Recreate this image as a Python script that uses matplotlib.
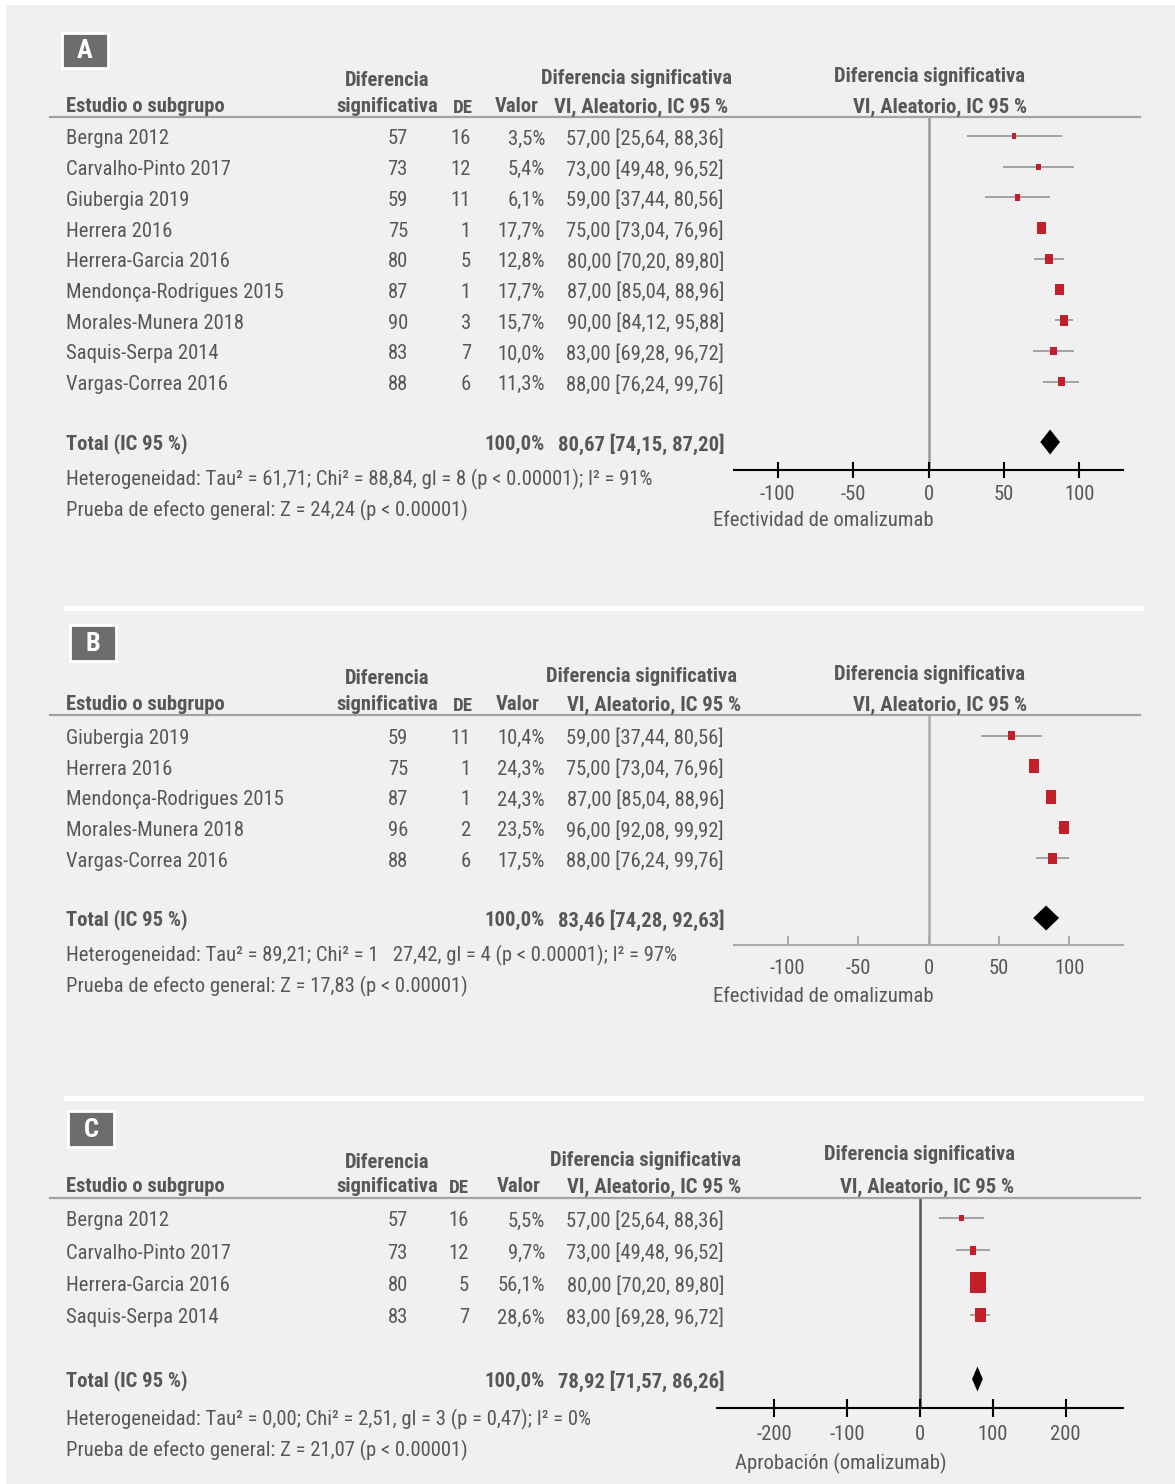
import matplotlib
matplotlib.use("Agg")
import matplotlib.pyplot as plt
from matplotlib.patches import Rectangle
from matplotlib.lines import Line2D
from matplotlib.path import Path

plt.rcParams['font.family'] = ['Liberation Sans Narrow', 'Roboto Condensed', 'DejaVu Sans']
plt.rcParams['axes.unicode_minus'] = False

# --- datos ---------------------------------------------------------------
A_studies = ["Bergna 2012", "Carvalho-Pinto 2017", "Giubergia 2019", "Herrera 2016",
             "Herrera-Garcia 2016", "Mendonça-Rodrigues 2015", "Morales-Munera 2018",
             "Saquis-Serpa 2014", "Vargas-Correa 2016"]
A_mean = [57, 73, 59, 75, 80, 87, 90, 83, 88]
A_sd = [16, 12, 11, 1, 5, 1, 3, 7, 6]
A_weight = [3.5, 5.4, 6.1, 17.7, 12.8, 17.7, 15.7, 10.0, 11.3]
A_lo = [25.64, 49.48, 37.44, 73.04, 70.20, 85.04, 84.12, 69.28, 76.24]
A_hi = [88.36, 96.52, 80.56, 76.96, 89.80, 88.96, 95.88, 96.72, 99.76]
A_total = (80.67, 74.15, 87.20)
A_het = "Heterogeneidad: Tau² = 61,71; Chi² = 88,84, gl = 8 (p < 0.00001); I² = 91%"
A_z = "Prueba de efecto general: Z = 24,24 (p < 0.00001)"

B_studies = ["Giubergia 2019", "Herrera 2016", "Mendonça-Rodrigues 2015",
             "Morales-Munera 2018", "Vargas-Correa 2016"]
B_mean = [59, 75, 87, 96, 88]
B_sd = [11, 1, 1, 2, 6]
B_weight = [10.4, 24.3, 24.3, 23.5, 17.5]
B_lo = [37.44, 73.04, 85.04, 92.08, 76.24]
B_hi = [80.56, 76.96, 88.96, 99.92, 99.76]
B_total = (83.46, 74.28, 92.63)
B_het = "Heterogeneidad: Tau² = 89,21; Chi² = 1   27,42, gl = 4 (p < 0.00001); I² = 97%"
B_z = "Prueba de efecto general: Z = 17,83 (p < 0.00001)"

C_studies = ["Bergna 2012", "Carvalho-Pinto 2017", "Herrera-Garcia 2016", "Saquis-Serpa 2014"]
C_mean = [57, 73, 80, 83]
C_sd = [16, 12, 5, 7]
C_weight = [5.5, 9.7, 56.1, 28.6]
C_lo = [25.64, 49.48, 70.20, 69.28]
C_hi = [88.36, 96.52, 89.80, 96.72]
C_total = (78.92, 71.57, 86.26)
C_het = "Heterogeneidad: Tau² = 0,00; Chi² = 2,51, gl = 3 (p = 0,47); I² = 0%"
C_z = "Prueba de efecto general: Z = 21,07 (p < 0.00001)"

# --- estilo --------------------------------------------------------------
W, H = 1175, 1484
BG = "#f0f0f0"
TXT = "#575757"
RED = "#c1202a"
FS = 14.9
DY = 3  # los textos van un poco por debajo del centro de fila


def fx(px):
    return px / W


def fy(py):
    return 1 - py / H


def num(v, nd=2):
    return f"{v:.{nd}f}".replace(".", ",")


# marcador rectangular (un poco más alto que ancho)
RECT = Path([(-0.5, -0.65), (0.5, -0.65), (0.5, 0.65), (-0.5, 0.65), (-0.5, -0.65)],
            [Path.MOVETO, Path.LINETO, Path.LINETO, Path.LINETO, Path.CLOSEPOLY])

fig = plt.figure(figsize=(W / 100, H / 100), dpi=100)
fig.patch.set_facecolor("white")
fig.add_artist(Rectangle((fx(6), 0), 1 - fx(6), fy(5), transform=fig.transFigure,
                         facecolor=BG, edgecolor="none", zorder=-5))


def ftext(x, y, s, **kw):
    kw.setdefault("color", TXT)
    kw.setdefault("fontsize", FS)
    kw.setdefault("va", "center")
    fig.text(fx(x), fy(y + DY), s, **kw)


def panel(letter, studies, mean, sd, weight, lo, hi, total, het, zline, lay):
    # caja con la letra
    bx, by, bw, bh = lay["box"]
    fig.add_artist(Rectangle((fx(bx), fy(by + bh)), bw / W, bh / H, transform=fig.transFigure,
                             facecolor="#6d6d6d", edgecolor="white", lw=2))
    ftext(bx + bw / 2, by + bh / 2 - 2, letter, color="white", fontsize=19,
          fontweight="bold", ha="center")

    # encabezados
    h1, h2 = lay["hy"]
    ftext(66, h2, "Estudio o subgrupo", fontweight="bold")
    ftext(387, h1 + 2, "Diferencia", fontweight="bold", ha="center")
    ftext(387, h2, "significativa", fontweight="bold", ha="center")
    ftext(lay["de_x"], h2 + 1, "DE", fontweight="bold", ha="center", fontsize=13.5)
    ftext(lay["valor_x"], h2, "Valor", fontweight="bold", ha="center")
    ftext(lay["mid_x"][0], h1, "Diferencia significativa", fontweight="bold", ha="center")
    ftext(lay["mid_x"][1], h2, "VI, Aleatorio, IC 95 %", fontweight="bold", ha="center")
    ftext(lay["right_x"][0], lay["right_y"], "Diferencia significativa", fontweight="bold", ha="center")
    ftext(lay["right_x"][1], h2, "VI, Aleatorio, IC 95 %", fontweight="bold", ha="center")

    hl = lay["hline"]
    fig.add_artist(Line2D([fx(50), fx(1140)], [fy(hl), fy(hl)], transform=fig.transFigure,
                          color="#a3a3a3", lw=1.6))

    # filas
    r0, step = lay["row0"], lay["step"]
    for i, name in enumerate(studies):
        y = r0 + i * step
        ftext(66, y, name)
        ftext(408, y, f"{mean[i]}", ha="right")
        ftext(lay["sd_x"], y, f"{sd[i]}", ha="right")
        ftext(545, y, f"{num(weight[i], 1)}%", ha="right")
        ftext(724, y, f"{num(mean[i])} [{num(lo[i])}, {num(hi[i])}]", ha="right")

    est, tlo, thi = total
    ty = lay["total_y"]
    ftext(66, ty, "Total (IC 95 %)", fontweight="bold")
    ftext(545, ty, "100,0%", fontweight="bold", ha="right")
    ftext(724, ty, f"{num(est)} [{num(tlo)}, {num(thi)}]", fontweight="bold", ha="right")
    ftext(66, lay["het_y"], het)
    ftext(66, lay["z_y"], zline)

    # gráfico de bosque
    x0, x1 = lay["ax_x"]
    ay = lay["axis_y"]
    ax = fig.add_axes([fx(x0), fy(ay), (x1 - x0) / W, (ay - hl) / H])
    ax.patch.set_alpha(0)
    ax.set_xlim(*lay["xlim"])
    ax.set_ylim((ay - r0) / step, (hl - r0) / step)
    rows = list(range(len(studies)))
    ax.axvline(0, color=lay["zero_c"], lw=1.8, zorder=1)
    ax.hlines(rows, lo, hi, color="#9c9c9c", lw=1.3, zorder=2)
    ax.scatter(mean, rows, s=[3.9 * w for w in weight], marker=RECT,
               color=RED, linewidths=0, zorder=3)
    dy = (ty + 1 - r0) / step
    hh = 12.5 / step
    ax.fill([tlo, est, thi, est], [dy, dy - hh, dy, dy + hh], color="black", lw=0, zorder=3)

    for s in ("top", "left", "right"):
        ax.spines[s].set_visible(False)
    ax.spines["bottom"].set_color(lay["axis_c"])
    ax.spines["bottom"].set_linewidth(1.5)
    ax.set_yticks([])
    ax.set_xticks(lay["ticks"])
    ax.tick_params(axis="x", direction=lay["tdir"], length=lay["tlen"], width=1.5,
                   color=lay["axis_c"], labelsize=FS, labelcolor=TXT, pad=lay["tpad"])
    ftext(lay["xlab"][0], lay["xlab"][1], lay["xlab"][2], ha=lay["xlab"][3])


panel("A", A_studies, A_mean, A_sd, A_weight, A_lo, A_hi, A_total, A_het, A_z, dict(
    box=(62, 33, 46, 35), hy=(75, 104), de_x=463, valor_x=517, mid_x=(636, 641),
    right_x=(930, 940), right_y=74, hline=117, row0=136, step=30.7, sd_x=471,
    total_y=441, het_y=476, z_y=507, ax_x=(734, 1123), axis_y=470, xlim=(-129, 129),
    ticks=[-100, -50, 0, 50, 100], zero_c="#9a9a9a", axis_c="black", tdir="inout",
    tlen=11.5, tpad=5, xlab=(713, 518, "Efectividad de omalizumab", "left")))

fig.add_artist(Line2D([fx(66), fx(1141)], [fy(608), fy(608)], transform=fig.transFigure,
                      color="white", lw=3.6))

panel("B", B_studies, B_mean, B_sd, B_weight, B_lo, B_hi, B_total, B_het, B_z, dict(
    box=(70, 625, 46, 36), hy=(673, 702), de_x=463, valor_x=518, mid_x=(641, 654),
    right_x=(930, 940), right_y=671, hline=715, row0=735.5, step=30.7, sd_x=471,
    total_y=917, het_y=952, z_y=983, ax_x=(734, 1123), axis_y=945, xlim=(-138, 138),
    ticks=[-100, -50, 0, 50, 100], zero_c="#ababab", axis_c="#ababab", tdir="in",
    tlen=6.5, tpad=10, xlab=(713, 994, "Efectividad de omalizumab", "left")))

fig.add_artist(Line2D([fx(66), fx(1141)], [fy(1098), fy(1098)], transform=fig.transFigure,
                      color="white", lw=3.6))

panel("C", C_studies, C_mean, C_sd, C_weight, C_lo, C_hi, C_total, C_het, C_z, dict(
    box=(68, 1111, 46, 36), hy=(1157, 1184), de_x=459, valor_x=519, mid_x=(646, 654),
    right_x=(920, 927), right_y=1152, hline=1198, row0=1218, step=32.3, sd_x=469,
    total_y=1378, het_y=1416, z_y=1447, ax_x=(717, 1123), axis_y=1408, xlim=(-279, 279),
    ticks=[-200, -100, 0, 100, 200], zero_c="#555555", axis_c="black", tdir="inout",
    tlen=13, tpad=6, xlab=(841, 1460, "Aprobación (omalizumab)", "center")))

fig.savefig("out.png", dpi=100, facecolor=fig.get_facecolor())
